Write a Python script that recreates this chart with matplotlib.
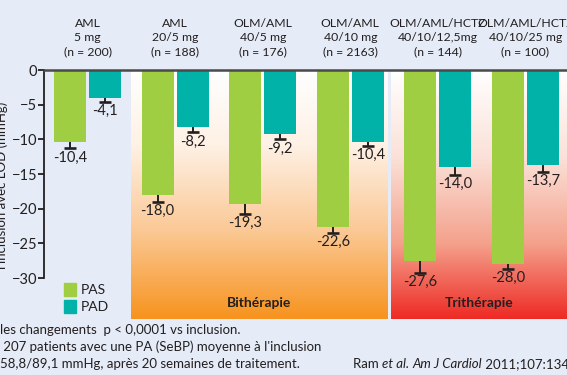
import numpy as np
import matplotlib.pyplot as plt
from matplotlib.colors import LinearSegmentedColormap
from matplotlib.patches import Patch

# ---- data ----
groups_top = ["AML", "AML", "OLM/AML", "OLM/AML", "OLM/AML/HCTZ", "OLM/AML/HCTZ"]
groups_dose = ["5 mg", "20/5 mg", "40/5 mg", "40/10 mg", "40/10/12,5mg", "40/10/25 mg"]
groups_n = ["(n = 200)", "(n = 188)", "(n = 176)", "(n = 2163)", "(n = 144)", "(n = 100)"]
pas = [-10.4, -18.0, -19.3, -22.6, -27.6, -28.0]
pad = [-4.1, -8.2, -9.2, -10.4, -14.0, -13.7]
pas_err = [0.9, 1.0, 1.4, 0.9, 1.6, 0.7]
pad_err = [0.5, 0.8, 0.8, 0.5, 1.1, 1.0]
yticks = [0, -5, -10, -15, -20, -25, -30]

GREEN = "#9FCE42"
TEAL = "#00B2A7"
BG = "#E5ECF7"
TXT = "#231F20"

plt.rcParams['font.family'] = ['Lato', 'DejaVu Sans']

fig = plt.figure(figsize=(5.67, 3.75), dpi=100, facecolor=BG)
ax = fig.add_axes([44 / 567, 56 / 375, 523 / 567, 249 / 375])
ax.set_facecolor(BG)

x = np.arange(len(pas))
xmin, xmax = -0.497, 5.474
ymin = -35.9

# gradient backgrounds (bithérapie / trithérapie)
orange = LinearSegmentedColormap.from_list(
    "o", [(0, "#FFFFFF"), (0.3, "#FEF1E5"), (0.65, "#FBC894"), (1, "#F7931E")])
red = LinearSegmentedColormap.from_list(
    "r", [(0, "#FFFFFF"), (0.35, "#FBE1D8"), (0.7, "#F4A08B"), (1, "#EE2A24")])
grad = np.linspace(0, 1, 256).reshape(-1, 1)
ax.imshow(grad, cmap=orange, aspect='auto', extent=(0.495, 3.425, ymin, 0),
          origin='upper', zorder=0)
ax.imshow(grad, cmap=red, aspect='auto', extent=(3.46, xmax, ymin, 0),
          origin='upper', zorder=0)
ax.set_xlim(xmin, xmax)
ax.set_ylim(ymin, 0)

w = 0.365
off = 0.2
ax.bar(x - off, pas, w, color=GREEN, zorder=2, label="PAS")
ax.bar(x + off, pad, w, color=TEAL, zorder=2, label="PAD")

# error bars: only the lower half, cap at the bottom
for xs, vals, errs in [(x - off, pas, pas_err), (x + off, pad, pad_err)]:
    lo = np.array(vals) - np.array(errs)
    ax.vlines(xs, lo, vals, color=TXT, lw=1.4, zorder=3)
    ax.plot(xs, lo, ls='none', marker='_', ms=8.5, mew=1.9, color=TXT, zorder=3)
    for xi, v, e in zip(xs, vals, errs):
        ax.annotate(f"{v:.1f}".replace(".", ","), (xi, v - e), xytext=(0, -1.5),
                    textcoords='offset points', ha='center', va='top',
                    fontsize=10.5, color=TXT, zorder=4)

# header labels
for xi, a, b, c in zip(x, groups_top, groups_dose, groups_n):
    ax.annotate(f"{a}\n{b}\n{c}", (xi, 1.0), xycoords=ax.get_xaxis_transform(),
                xytext=(0, 9), textcoords='offset points',
                ha='center', va='bottom', fontsize=8.8, color=TXT,
                linespacing=1.35, annotation_clip=False)
ax.set_xticks([])

# spines
for s in ['right', 'bottom']:
    ax.spines[s].set_visible(False)
ax.spines['top'].set_color('#4A4A4A')
ax.spines['top'].set_linewidth(1.8)
ax.spines['left'].set_bounds(-30, 0)
ax.spines['left'].set_color(TXT)
ax.spines['left'].set_linewidth(1.3)
ax.set_yticks(yticks)
ax.tick_params(axis='y', direction='out', length=4, width=1.3, colors=TXT,
               labelsize=10.5, pad=1)

fig.text(-0.010, 1 - 185 / 375, "Changement depuis\nl'inclusion avec LOD (mmHg)",
         rotation=90, ha='center', va='center', fontsize=9.5, color=TXT,
         linespacing=1.2)

ax.text(1.96, -33.6, "Bithérapie", ha='center', va='center', fontsize=10,
        fontweight='bold', color=TXT, zorder=4)
ax.text(4.47, -33.6, "Trithérapie", ha='center', va='center', fontsize=10,
        fontweight='bold', color=TXT, zorder=4)

handles = [Patch(color=GREEN, label="PAS"), Patch(color=TEAL, label="PAD")]
fig.legend(handles=handles, loc='upper left', bbox_to_anchor=(54 / 567, 1 - 273 / 375),
           frameon=False, fontsize=10, handlelength=0.9, handleheight=1.1,
           handletextpad=0.3, labelspacing=0.25, borderpad=0.2,
           labelcolor=TXT)

notes = ["les changements  p < 0,0001 vs inclusion.",
         " 207 patients avec une PA (SeBP) moyenne à l'inclusion",
         "58,8/89,1 mmHg, après 20 semaines de traitement."]
for i, t in enumerate(notes):
    fig.text(0.0, 1 - (330 + 17 * i) / 375, t, ha='left', va='center',
             fontsize=9.5, color=TXT)

# reference with italic parts, chained one after the other
parts = [("et al.", 'italic'), (" ", 'normal'),
         ("Am J Cardiol", 'italic'), (" 2011;107:1342", 'normal')]
prev = fig.text(353 / 567, 1 - 364 / 375, "Ram ", ha='left', va='center',
                fontsize=9.5, color=TXT)
for t, st in parts:
    prev = ax.annotate(t, xy=(1, 0.5), xycoords=prev, xytext=(0, 0),
                       textcoords='offset points', ha='left', va='center',
                       fontsize=9.5, color=TXT, style=st, annotation_clip=False)

plt.savefig("out.png", dpi=100, facecolor=BG)
